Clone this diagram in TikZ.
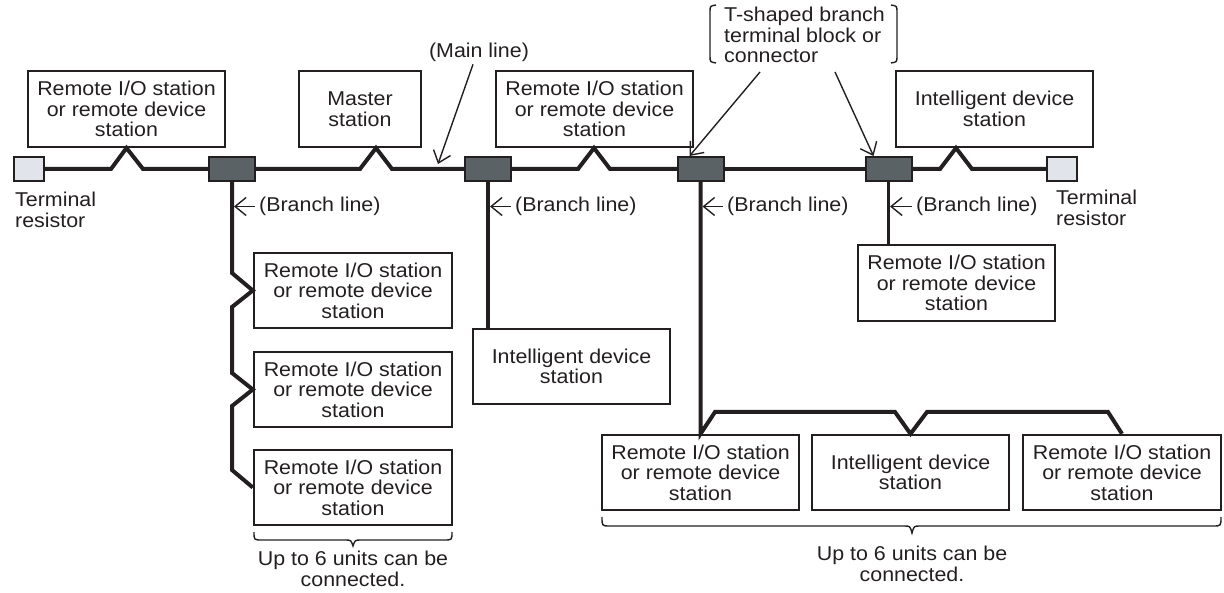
\documentclass[tikz,border=0pt]{standalone}
\usepackage{fontspec}
\setmainfont{Liberation Sans}[FakeStretch=1.07]
\usetikzlibrary{arrows.meta}
\definecolor{ink}{HTML}{231F20}
\definecolor{blockgray}{HTML}{5A6265}
\definecolor{resgray}{HTML}{E1E4EA}
\begin{document}
\begin{tikzpicture}[x=1pt,y=-1pt,
  every node/.style={font=\fontsize{20}{20.5}\selectfont, text=ink},
  box/.style={draw=ink, line width=2.4pt, minimum width=197pt, minimum height=76pt, align=center, inner sep=0pt},
  blk/.style={draw=ink, fill=blockgray, line width=2pt, minimum width=46pt, minimum height=24pt, inner sep=0pt},
  res/.style={draw=ink, fill=resgray, line width=2pt, minimum width=30pt, minimum height=24pt, inner sep=0pt},
  lbl/.style={inner sep=0pt},
  mainline/.style={draw=ink, line width=4pt},
  branchline/.style={draw=ink, line width=4pt},
  thinbranch/.style={draw=ink, line width=3pt},
  ptr/.style={draw=ink, line width=1.4pt, -{Straight Barb[length=11pt,width=18pt]}},
  brace/.style={draw=ink, line width=1.4pt}
]
\useasboundingbox (0,0) rectangle (1224,593);

% stations on the main line
\node[box] (tl) at (126.5,109) {Remote I/O station\\or remote device\\station};
\node[box, minimum width=122pt] (ms) at (360,109) {Master\\station};
\node[box] (tm) at (594.5,109) {Remote I/O station\\or remote device\\station};
\node[box] (tr) at (994.5,109) {Intelligent device\\station};

% left branch column
\node[box, minimum width=198pt, minimum height=75pt] (c1) at (353,290.5) {Remote I/O station\\or remote device\\station};
\node[box, minimum width=198pt, minimum height=75pt] (c2) at (353,389.5) {Remote I/O station\\or remote device\\station};
\node[box, minimum width=198pt, minimum height=75pt] (c3) at (353,487.5) {Remote I/O station\\or remote device\\station};

% middle branch
\node[box, minimum height=75pt] (mi) at (571.5,366.5) {Intelligent device\\station};

% right branch (block 4)
\node[box] (rb) at (956.5,283) {Remote I/O station\\or remote device\\station};

% bottom group
\node[box, minimum height=75pt] (ba) at (700.5,472.5) {Remote I/O station\\or remote device\\station};
\node[box, minimum height=75pt] (bb) at (910.5,472.5) {Intelligent device\\station};
\node[box, minimum width=198pt, minimum height=75pt] (bc) at (1122,472.5) {Remote I/O station\\or remote device\\station};

% terminal resistors
\node[res] (r1) at (29,169) {};
\node[res] (r2) at (1062,169) {};

% main line
\draw[mainline] (r1.east) -- (111,169) -- (126.5,148) -- (143,169) -- (209,169);
\draw[mainline] (255,169) -- (360,169) -- (376,148) -- (392,169) -- (465,169);
\draw[mainline] (511,169) -- (578,169) -- (594,148) -- (610,169) -- (678,169);
\draw[mainline] (723,169) -- (866,169);
\draw[mainline] (911,169) -- (940,169) -- (956,148) -- (972,169) -- (r2.west);

% branch lines
\draw[branchline] (232,181) -- (232,273) -- (c1.west) -- (232,307) -- (232,373) -- (c2.west) -- (232,406) -- (232,470) -- (c3.west);
\draw[branchline] (488,181) -- (488,329);
\draw[branchline] (700.5,181) -- (ba.north) -- (715,412) -- (895,412) -- (bb.north) -- (927,412) -- (1108,412) -- (bc.north);
\draw[thinbranch] (888.5,181) -- (888.5,245);

% T-branch blocks
\node[blk] (b1) at (232,169) {};
\node[blk] (b2) at (488,169) {};
\node[blk] (b3) at (700.5,169) {};
\node[blk] (b4) at (888.5,169) {};

% terminal resistor labels
\node[lbl, anchor=north west, align=left] (t1) at (15,192) {Terminal\\resistor};
\node[lbl, anchor=north west, align=left] (t2) at (1056,190) {Terminal\\resistor};

% branch line labels
\node[lbl, anchor=west] (bl1) at (259,206.5) {(Branch line)};
\node[lbl, anchor=west] (bl2) at (515,206.5) {(Branch line)};
\node[lbl, anchor=west] (bl3) at (727,206.5) {(Branch line)};
\node[lbl, anchor=west] (bl4) at (916,206.5) {(Branch line)};
\draw[ptr] ([xshift=-4pt]bl1.west) -- ([xshift=2pt]bl1.west -| b1.south);
\draw[ptr] ([xshift=-4pt]bl2.west) -- ([xshift=2pt]bl2.west -| b2.south);
\draw[ptr] ([xshift=-4pt]bl3.west) -- ([xshift=2pt]bl3.west -| b3.south);
\draw[ptr] ([xshift=-4pt]bl4.west) -- ([xshift=1.5pt]bl4.west -| b4.south);

% main line label
\node[lbl, anchor=base] (ml) at (479,58) {(Main line)};
\coordinate (mltip) at (438,164);
\draw[ptr] ([xshift=-6pt, yshift=-2pt]ml.south) -- (mltip);

% T-shaped branch label
\node[lbl, anchor=north west, align=left] (tb) at (724,7) {T-shaped branch\\terminal block or\\connector};
\draw[brace] (716,5) .. controls (710,6) .. (710,12) -- (710,56) .. controls (710,62) .. (716,63);
\draw[brace] (891,5) .. controls (897,6) .. (897,12) -- (897,56) .. controls (897,62) .. (891,63);
\coordinate (tbA) at (760,72);
\coordinate (tbB) at (835,72);
\draw[ptr] (tbA) -- ([xshift=-11pt]b3.north);
\draw[ptr] (tbB) -- ([xshift=-15pt]b4.north);

% bottom braces
\draw[brace] (254,532) .. controls (254,540) .. (262,540) -- (345,540) .. controls (351,540) .. (353,546) .. controls (355,540) .. (361,540) -- (444,540) .. controls (452,540) .. (452,532);
\node[lbl, anchor=north, align=center] (u1) at (353,551) {Up to 6 units can be\\connected.};
\draw[brace] (602,517) .. controls (602,526) .. (610,526) -- (904,526) .. controls (910,526) .. (912,533) .. controls (914,526) .. (920,526) -- (1213,526) .. controls (1221,526) .. (1221,517);
\node[lbl, anchor=north, align=center] (u2) at (912,546) {Up to 6 units can be\\connected.};
\end{tikzpicture}
\end{document}
